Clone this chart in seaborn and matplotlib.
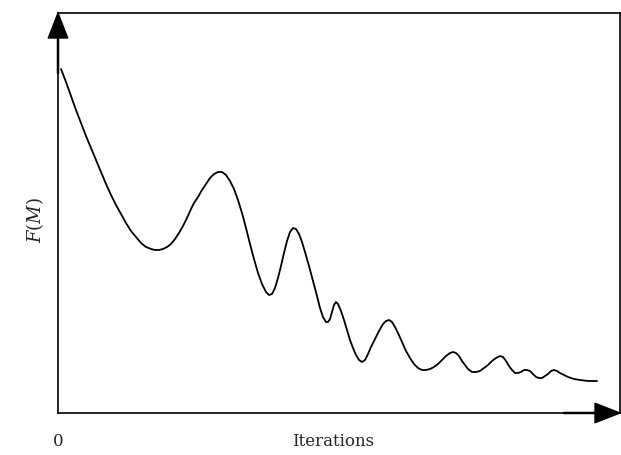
import matplotlib
matplotlib.use("Agg")
import matplotlib.pyplot as plt
import seaborn as sns
import pandas as pd

# Curve (iterations, F(M) in arbitrary units)
iterations = [3, 8, 13, 18, 23, 28, 33, 38, 43, 48,
              53, 58, 63, 68, 73, 78, 83, 88, 93, 97,
              101, 105, 109, 113, 117, 121, 125, 129, 133, 136,
              140, 144, 148, 152, 156, 160, 164, 168, 172, 176,
              180, 184, 188, 192, 196, 200, 204, 208, 211, 214,
              217, 220, 223, 226, 229, 232, 235, 238, 241, 244,
              247, 251, 255, 259, 262, 265, 268, 270, 272, 274,
              276, 278, 280, 283, 286, 289, 292, 295, 298, 301,
              304, 307, 310, 313, 317, 321, 325, 328, 331, 334,
              337, 340, 344, 348, 352, 356, 360, 364, 368, 372,
              376, 380, 384, 388, 392, 395, 398, 401, 404, 407,
              410, 414, 418, 422, 426, 430, 434, 438, 442, 445,
              448, 451, 454, 457, 460, 463, 466, 469, 472, 475,
              478, 481, 484, 487, 490, 493, 496, 499, 502, 506,
              510, 516, 522, 530, 539]
fm = [344, 331, 317, 303, 290, 277, 265, 253, 241, 229,
      218, 208, 199, 190, 182, 176, 170, 166, 164, 163,
      163, 164, 166, 169, 174, 180, 187, 195, 204, 210,
      216, 223, 229, 235, 239, 241, 241, 238, 232, 224,
      213, 200, 185, 169, 154, 140, 129, 121, 118, 119,
      125, 135, 147, 160, 172, 181, 185, 184, 179, 171,
      161, 147, 132, 117, 105, 96, 91, 91, 94, 101,
      108, 111, 109, 102, 93, 83, 73, 65, 58, 53,
      51, 53, 59, 66, 74, 82, 89, 92, 93, 91,
      86, 80, 71, 62, 55, 49, 45, 43, 43, 44,
      46, 49, 53, 57, 60, 61, 60, 57, 52, 48,
      44, 41, 41, 42, 45, 48, 52, 55, 57, 56,
      52, 47, 43, 40, 40, 41, 43, 43, 42, 39,
      36, 35, 35, 37, 39, 42, 43, 42, 40, 38,
      36, 34, 33, 32, 32]

df = pd.DataFrame({"Iterations": iterations, "F": fm})

sns.set_style("white")
plt.rcParams['font.family'] = ['DejaVu Serif', 'Liberation Serif']
plt.rcParams['mathtext.fontset'] = 'custom'
plt.rcParams['mathtext.rm'] = 'DejaVu Serif'
plt.rcParams['mathtext.it'] = 'DejaVu Serif:italic'

fig = plt.figure(figsize=(6.21, 4.55), dpi=100)
ax = fig.add_axes([58/621, 42/455, 562/621, 400/455])

line = sns.lineplot(data=df, x="Iterations", y="F", ax=ax, color="black",
                    linewidth=1.3, sort=False, estimator=None)
for l in ax.lines:
    l.set_solid_joinstyle("round")
    l.set_solid_capstyle("round")

ax.set_xlim(0, 562)
ax.set_ylim(0, 400)
ax.set_xticks([])
ax.set_yticks([])
ax.set_xlabel("")
ax.set_ylabel("")
for s in ax.spines.values():
    s.set_color("black")
    s.set_linewidth(1.2)
    s.set_visible(True)

arrow = dict(facecolor="black", edgecolor="black", width=0.8, headwidth=14,
             headlength=18, shrink=0)
ax.annotate("", xy=(0, 1), xycoords="axes fraction", xytext=(0, 0.85),
            textcoords="axes fraction", arrowprops=arrow, annotation_clip=False)
ax.annotate("", xy=(1, 0), xycoords="axes fraction", xytext=(0.9, 0),
            textcoords="axes fraction", arrowprops=arrow, annotation_clip=False)

fig.text(333/621, 1 - 442/455, "Iterations", ha="center", va="center", fontsize=12)
fig.text(58/621, 1 - 442/455, "0", ha="center", va="center", fontsize=12)
fig.text(35/621, 1 - 220/455, "$F(M)$", ha="center", va="center", rotation=90,
         fontsize=13)

fig.savefig("out.png", dpi=100)
